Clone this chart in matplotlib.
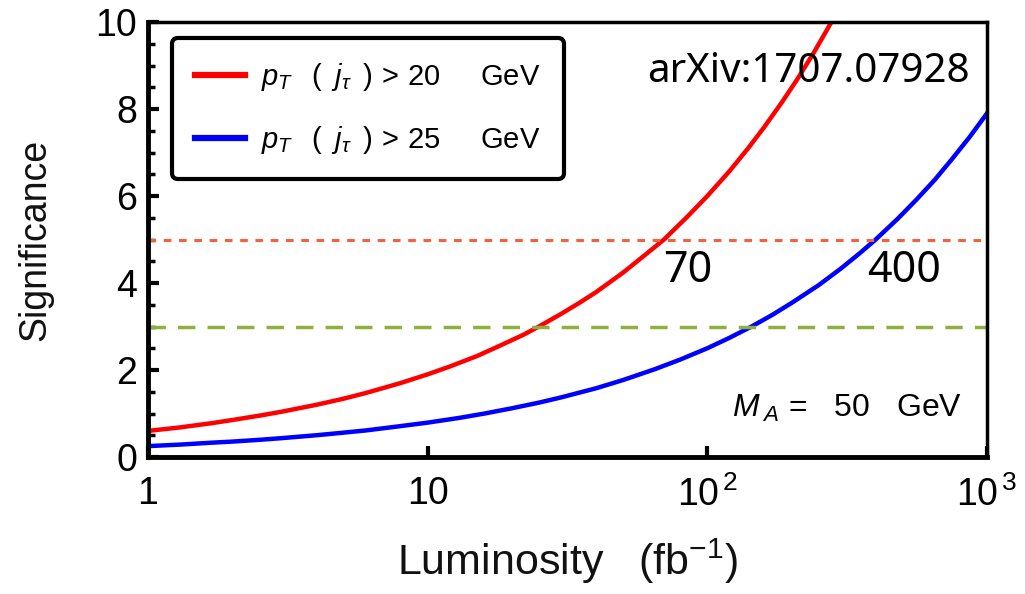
import matplotlib.pyplot as plt
from matplotlib.ticker import FixedLocator, NullLocator, MultipleLocator

# luminosity (fb^-1) and significance
lumi_red = [1, 1.3, 1.7, 2, 2.5, 3, 4, 5, 6, 8, 10, 12, 15, 18, 22, 25, 30, 35, 40,
            50, 60, 70, 85, 100, 120, 140, 160, 185, 210, 240, 270, 285]
sig_red = [0.60, 0.68, 0.78, 0.85, 0.95, 1.04, 1.20, 1.34, 1.47, 1.70, 1.90, 2.08, 2.32,
           2.55, 2.81, 3.0, 3.29, 3.55, 3.79, 4.24, 4.65, 5.0, 5.53, 6.0, 6.57, 7.10,
           7.59, 8.16, 8.69, 9.29, 9.86, 10.13]

lumi_blue = [1, 1.3, 1.7, 2, 2.5, 3, 4, 5, 6, 8, 10, 13, 16, 20, 25, 30, 40, 50, 65, 80,
             100, 120, 144, 170, 200, 250, 300, 350, 400, 480, 560, 650, 750, 870, 1000]
sig_blue = [0.25, 0.285, 0.33, 0.354, 0.395, 0.433, 0.50, 0.56, 0.61, 0.71, 0.79, 0.90,
            1.0, 1.12, 1.25, 1.37, 1.58, 1.77, 2.02, 2.24, 2.5, 2.74, 3.0, 3.26, 3.54,
            3.95, 4.33, 4.68, 5.0, 5.48, 5.92, 6.37, 6.85, 7.37, 7.9]

hline_5 = 5
hline_3 = 3
labels = [r"$p_T\;\;\;(\;\;j_\tau\;\;)\,>\,$20     GeV",
          r"$p_T\;\;\;(\;\;j_\tau\;\;)\,>\,$25     GeV"]
notes = ["70", "400"]
note_x = [85, 505]
note_y = 4.28

plt.rcParams["font.family"] = ["Liberation Sans", "DejaVu Sans"]
plt.rcParams["mathtext.fontset"] = "custom"
plt.rcParams["mathtext.it"] = "Liberation Sans:italic"
plt.rcParams["mathtext.rm"] = "Liberation Sans"

fig = plt.figure(figsize=(10.25, 5.94), dpi=100)
ax = fig.add_axes([148 / 1025, 1 - 457 / 594, (987 - 148) / 1025, (457 - 22) / 594])

ax.plot(lumi_red, sig_red, color="#ff0000", lw=3.2, label=labels[0])
ax.plot(lumi_blue, sig_blue, color="#0000ff", lw=3.2, label=labels[1])
ax.axhline(hline_5, color="#f0643c", lw=2.2, ls=(0, (2.5, 2.5)))
ax.axhline(hline_3, color="#8fb03c", lw=2.5, ls=(0, (5, 3.5)))

ax.set_xscale("log")
ax.set_xlim(1, 1000)
ax.set_ylim(0, 10)
ax.xaxis.set_major_locator(FixedLocator([1, 10, 100, 1000]))
ax.xaxis.set_minor_locator(NullLocator())
ax.set_xticklabels(["1", "10", r"10$^{\,2}$", r"10$^{\,3}$"])
ax.yaxis.set_major_locator(MultipleLocator(2))
ax.yaxis.set_minor_locator(MultipleLocator(0.5))
ax.tick_params(which="major", direction="in", length=8, width=3, labelsize=27)
ax.tick_params(which="minor", direction="in", length=5, width=2.5)
ax.tick_params(axis="x", pad=14)
ax.tick_params(axis="y", pad=8)
for s in ax.spines.values():
    s.set_linewidth(2.5)
ax.spines["left"].set_linewidth(3.5)
ax.spines["bottom"].set_linewidth(3.5)

ax.set_xlabel(r"Luminosity   (fb$^{-1}$)", fontsize=31, labelpad=16, color="#111111")
ax.set_ylabel("Significance", fontsize=27, labelpad=30, color="#111111")

leg = ax.legend(loc="upper left", bbox_to_anchor=(24 / 839, 1 - 16 / 435), fontsize=21,
                frameon=True, fancybox=True, handlelength=1.7, handletextpad=0.55,
                borderpad=0.8, labelspacing=1.05, borderaxespad=0, framealpha=1)
leg.get_frame().set_edgecolor("black")
leg.get_frame().set_linewidth(3)
for h in leg.get_lines():
    h.set_linewidth(4.5)

ax.text(0.98, 0.885, "arXiv:1707.07928", transform=ax.transAxes, ha="right",
        va="center", fontsize=29, family=["Noto Sans", "DejaVu Sans"])
for t, xv in zip(notes, note_x):
    ax.text(xv, note_y, t, ha="center", va="center", fontsize=31,
            family=["Noto Sans", "DejaVu Sans"])
ax.text(0.97, 0.112, r"$M_{\;A}$ =   50   GeV", transform=ax.transAxes, ha="right",
        va="center", fontsize=23)

fig.savefig("out.png", dpi=100)
